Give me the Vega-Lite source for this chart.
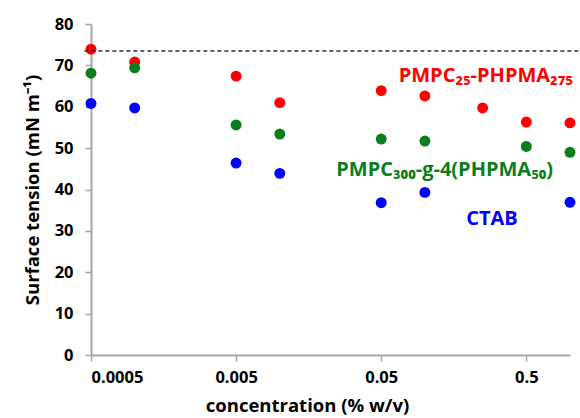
{
  "$schema": "https://vega.github.io/schema/vega-lite/v6.json",
  "autosize": {"type": "none"},
  "width": 479,
  "height": 331,
  "padding": {"left": 91, "top": 24, "right": 10, "bottom": 63},
  "background": "white",
  "config": {
    "view": {"stroke": null},
    "font": "Open Sans",
    "axis": {
      "grid": false,
      "domainColor": "#a6a6a6",
      "domainWidth": 2,
      "tickColor": "#a6a6a6",
      "tickWidth": 1.5,
      "tickSize": 6,
      "labelFont": "Open Sans",
      "labelFontWeight": "bold",
      "labelFontSize": 16.5,
      "labelColor": "#000000",
      "titleFont": "Open Sans",
      "titleFontWeight": "bold",
      "titleFontSize": 18.5,
      "titleColor": "#000000"
    }
  },
  "datasets": {
    "points": [
      {"conc": 0.0005, "tension": 73.9, "series": "PMPC25-PHPMA275"},
      {"conc": 0.001, "tension": 70.8, "series": "PMPC25-PHPMA275"},
      {"conc": 0.005, "tension": 67.4, "series": "PMPC25-PHPMA275"},
      {"conc": 0.01, "tension": 61.0, "series": "PMPC25-PHPMA275"},
      {"conc": 0.05, "tension": 63.9, "series": "PMPC25-PHPMA275"},
      {"conc": 0.1, "tension": 62.6, "series": "PMPC25-PHPMA275"},
      {"conc": 0.25, "tension": 59.7, "series": "PMPC25-PHPMA275"},
      {"conc": 0.5, "tension": 56.3, "series": "PMPC25-PHPMA275"},
      {"conc": 1.0, "tension": 56.1, "series": "PMPC25-PHPMA275"},
      {"conc": 0.0005, "tension": 68.1, "series": "PMPC300-g-4(PHPMA50)"},
      {"conc": 0.001, "tension": 69.4, "series": "PMPC300-g-4(PHPMA50)"},
      {"conc": 0.005, "tension": 55.6, "series": "PMPC300-g-4(PHPMA50)"},
      {"conc": 0.01, "tension": 53.4, "series": "PMPC300-g-4(PHPMA50)"},
      {"conc": 0.05, "tension": 52.2, "series": "PMPC300-g-4(PHPMA50)"},
      {"conc": 0.1, "tension": 51.7, "series": "PMPC300-g-4(PHPMA50)"},
      {"conc": 0.5, "tension": 50.4, "series": "PMPC300-g-4(PHPMA50)"},
      {"conc": 1.0, "tension": 49.0, "series": "PMPC300-g-4(PHPMA50)"},
      {"conc": 0.0005, "tension": 60.8, "series": "CTAB"},
      {"conc": 0.001, "tension": 59.7, "series": "CTAB"},
      {"conc": 0.005, "tension": 46.4, "series": "CTAB"},
      {"conc": 0.01, "tension": 43.9, "series": "CTAB"},
      {"conc": 0.05, "tension": 36.8, "series": "CTAB"},
      {"conc": 0.1, "tension": 39.3, "series": "CTAB"},
      {"conc": 1.0, "tension": 36.9, "series": "CTAB"}
    ],
    "labels": [
      {"conc": 0.066, "tension": 67.4, "label": "PMPC₂₅-PHPMA₂₇₅", "series": "PMPC25-PHPMA275", "anchor": "left"},
      {"conc": 0.0245, "tension": 44.7, "label": "PMPC₃₀₀-g-4(PHPMA₅₀)", "series": "PMPC300-g-4(PHPMA50)", "anchor": "left"},
      {"conc": 0.29, "tension": 32.8, "label": "CTAB", "series": "CTAB", "anchor": "center"}
    ],
    "water": [{"tension": 73.5, "from": 0.00045, "to": 1.17}]
  },
  "layer": [
    {
      "data": {"name": "points"},
      "mark": {"type": "circle", "size": 120, "opacity": 1},
      "encoding": {
        "x": {
          "field": "conc", "type": "quantitative",
          "scale": {"type": "log", "domain": [0.0005, 1], "nice": false},
          "axis": {
            "values": [0.0005, 0.005, 0.05, 0.5],
            "format": "~g",
            "title": "concentration (% w/v)",
            "labelPadding": 8,
            "titleX": 216,
            "titleY": 50,
            "titleBaseline": "middle"
          }
        },
        "y": {
          "field": "tension", "type": "quantitative",
          "scale": {"domain": [0, 80], "nice": false},
          "axis": {
            "values": [0, 10, 20, 30, 40, 50, 60, 70, 80],
            "title": "Surface tension (mN m⁻¹)",
            "labelPadding": 12,
            "titlePadding": 12
          }
        },
        "color": {
          "field": "series", "type": "nominal",
          "scale": {"domain": ["PMPC25-PHPMA275", "PMPC300-g-4(PHPMA50)", "CTAB"], "range": ["#ff0000", "#0a7d1c", "#0000ff"]},
          "legend": null
        }
      }
    },
    {
      "data": {"name": "labels"},
      "transform": [{"filter": "datum.anchor == 'left'"}],
      "mark": {"type": "text", "align": "left", "baseline": "middle", "fontSize": 20, "fontWeight": "bold", "font": "Open Sans"},
      "encoding": {
        "x": {"field": "conc", "type": "quantitative"},
        "y": {"field": "tension", "type": "quantitative"},
        "text": {"field": "label"},
        "color": {"field": "series", "type": "nominal", "scale": {"domain": ["PMPC25-PHPMA275", "PMPC300-g-4(PHPMA50)", "CTAB"], "range": ["#ff0000", "#0f8a2a", "#0000ff"]}, "legend": null}
      }
    },
    {
      "data": {"name": "labels"},
      "transform": [{"filter": "datum.anchor == 'center'"}],
      "mark": {"type": "text", "align": "center", "baseline": "middle", "fontSize": 20, "fontWeight": "bold", "font": "Open Sans"},
      "encoding": {
        "x": {"field": "conc", "type": "quantitative"},
        "y": {"field": "tension", "type": "quantitative"},
        "text": {"field": "label"},
        "color": {"field": "series", "type": "nominal", "scale": {"domain": ["PMPC25-PHPMA275", "PMPC300-g-4(PHPMA50)", "CTAB"], "range": ["#ff0000", "#0f8a2a", "#0000ff"]}, "legend": null}
      }
    },
    {
      "data": {"name": "water"},
      "mark": {"type": "rule", "color": "#333333", "strokeWidth": 1.5, "strokeDash": [4, 3]},
      "encoding": {
        "x": {"field": "from", "type": "quantitative"},
        "x2": {"field": "to"},
        "y": {"field": "tension", "type": "quantitative"}
      }
    }
  ]
}
